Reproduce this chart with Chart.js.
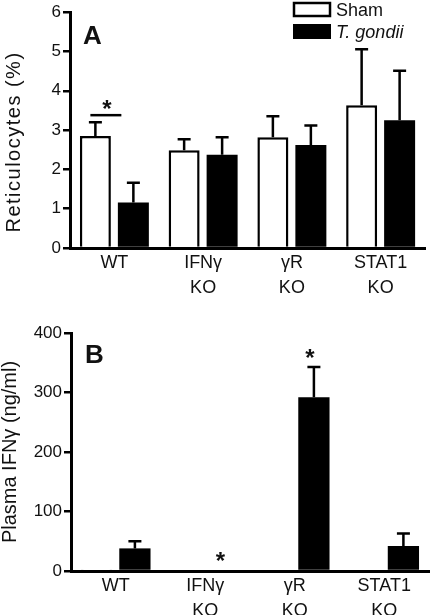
<!DOCTYPE html>
<html>
<head>
<meta charset="utf-8">
<script src="https://cdn.jsdelivr.net/npm/chart.js@4.4.0/dist/chart.umd.min.js"></script>
<style>
  html, body { margin: 0; padding: 0; background: #fff; overflow: hidden; }
  #wrapA { position: absolute; left: 0; top: 0; width: 433px; height: 300px; }
  #wrapB { position: absolute; left: 0; top: 300px; width: 433px; height: 330px; }
</style>
</head>
<body>
<div id="wrapA"><canvas id="chartA"></canvas></div>
<div id="wrapB"><canvas id="chartB"></canvas></div>
<script>
const groups = [['WT'], ['IFNγ', 'KO'], ['γR', 'KO'], ['STAT1', 'KO']];
const seriesNames = ['Sham', 'T. gondii'];

// panel A - reticulocytes (%), mean and SEM
const retSham = [2.85, 2.49, 2.82, 3.63];
const retShamSem = [0.35, 0.28, 0.53, 1.43];
const retTg = [1.16, 2.37, 2.62, 3.25];
const retTgSem = [0.50, 0.45, 0.50, 1.26];
const retTicks = [0, 1, 2, 3, 4, 5, 6];

// panel B - plasma IFNg (ng/ml), mean and SEM
const ifnSham = [1, 0, 0, 0];
const ifnShamSem = [0, 0, 0, 0];
const ifnTg = [38, 0, 292, 42];
const ifnTgSem = [12, 0, 51, 21];
const ifnTicks = [0, 100, 200, 300, 400];

// significance marks (value on y axis)
const sigLineA = 3.38;
const starA = 3.66;
const starB = [null, 25, 366, null]; // over T. gondii bars

const FONT = "'Liberation Sans', Arial, sans-serif";
const INK = '#111';

function starAt(ctx, x, yc) {
  ctx.font = 'bold 24px ' + FONT;
  ctx.textAlign = 'center';
  ctx.textBaseline = 'alphabetic';
  const m = ctx.measureText('*');
  const base = yc + (m.actualBoundingBoxAscent - m.actualBoundingBoxDescent) / 2;
  ctx.fillText('*', x, base);
}

function panelPlugin(cfg) {
  return {
    id: 'panel' + cfg.letter,
    afterDatasetsDraw(chart) {
      const ctx = chart.ctx;
      const ys = chart.scales.y;
      const area = chart.chartArea;
      ctx.save();
      ctx.strokeStyle = '#000';
      ctx.fillStyle = INK;
      ctx.lineWidth = 2.5;

      // error bars (upper only)
      cfg.sems.forEach((sem, di) => {
        const meta = chart.getDatasetMeta(di);
        const vals = chart.data.datasets[di].data;
        meta.data.forEach((bar, i) => {
          if (!sem[i]) return;
          const top = ys.getPixelForValue(vals[i] + sem[i]);
          ctx.beginPath();
          ctx.moveTo(bar.x, bar.y);
          ctx.lineTo(bar.x, top);
          ctx.moveTo(bar.x - 6.5, top);
          ctx.lineTo(bar.x + 6.5, top);
          ctx.stroke();
        });
      });

      if (cfg.sigLine != null) {
        const s = chart.getDatasetMeta(0).data[0];
        const t = chart.getDatasetMeta(1).data[0];
        const yl = ys.getPixelForValue(cfg.sigLine);
        const x1 = s.x - 5, x2 = t.x - 12;
        ctx.beginPath();
        ctx.moveTo(x1, yl);
        ctx.lineTo(x2, yl);
        ctx.stroke();
        starAt(ctx, (x1 + x2) / 2 + 1, ys.getPixelForValue(cfg.star));
      }
      if (cfg.stars) {
        const meta = chart.getDatasetMeta(1);
        cfg.stars.forEach((v, i) => {
          if (v == null) return;
          starAt(ctx, meta.data[i].x - 4, ys.getPixelForValue(v));
        });
      }

      // panel letter
      ctx.font = 'bold 26px ' + FONT;
      ctx.textAlign = 'left';
      ctx.textBaseline = 'alphabetic';
      ctx.fillText(cfg.letter, area.left + cfg.letterDx, area.top + cfg.letterDy);

      // y title
      ctx.save();
      ctx.translate(cfg.titleX, cfg.titleY);
      ctx.rotate(-Math.PI / 2);
      ctx.font = '20px ' + FONT;
      ctx.letterSpacing = cfg.titleSpacing;
      ctx.textAlign = 'center';
      ctx.fillText(cfg.title, 0, 0);
      ctx.restore();

      // legend
      if (cfg.legend) {
        ctx.font = '18px ' + FONT;
        ctx.textAlign = 'left';
        ctx.lineWidth = 2.5;
        ctx.fillStyle = '#fff';
        ctx.fillRect(294, 3, 36, 13);
        ctx.strokeRect(294, 3, 36, 13);
        ctx.fillStyle = '#000';
        ctx.fillRect(293, 24, 38, 15);
        ctx.fillStyle = INK;
        ctx.fillText(seriesNames[0], 336, 16);
        ctx.font = 'italic 18px ' + FONT;
        ctx.fillText(seriesNames[1], 336, 38);
      }
      ctx.restore();
    }
  };
}

function makeChart(id, cfg) {
  return new Chart(document.getElementById(id), {
    type: 'bar',
    data: {
      labels: groups,
      datasets: [
        { label: seriesNames[0], data: cfg.sham, backgroundColor: '#fff', borderColor: '#000', borderWidth: 2.5 },
        { label: seriesNames[1], data: cfg.tg, backgroundColor: '#000', borderColor: '#000', borderWidth: 0 }
      ]
    },
    options: {
      responsive: true,
      maintainAspectRatio: false,
      animation: false,
      datasets: { bar: { categoryPercentage: 0.856, barPercentage: 0.816, borderSkipped: 'start' } },
      layout: { padding: { left: 0, top: cfg.padTop, right: cfg.padRight, bottom: 0 } },
      plugins: { legend: { display: false }, tooltip: { enabled: false } },
      scales: {
        x: {
          offset: true,
          grid: { display: false, drawTicks: false },
          border: { display: true, color: '#000', width: 3 },
          ticks: { color: INK, font: { family: FONT, size: 18, lineHeight: 1.39 }, padding: 3, maxRotation: 0, autoSkip: false },
          afterFit: s => { s.height = cfg.xHeight; }
        },
        y: {
          min: 0,
          max: cfg.ticks[cfg.ticks.length - 1],
          afterBuildTicks: axis => { axis.ticks = cfg.ticks.map(v => ({ value: v })); },
          afterFit: s => { s.width = cfg.yWidth; },
          grid: { display: true, drawOnChartArea: false, drawTicks: true, tickLength: 7, color: '#000', lineWidth: 2.5 },
          border: { display: true, color: '#000', width: 3 },
          ticks: { color: INK, font: { family: FONT, size: 17 }, padding: 2 }
        }
      }
    },
    plugins: [panelPlugin(cfg)]
  });
}

makeChart('chartA', {
  sham: retSham, tg: retTg, sems: [retShamSem, retTgSem], ticks: retTicks,
  padTop: 10, padRight: 8, xHeight: 52, yWidth: 70,
  letter: 'A', letterDx: 13, letterDy: 32,
  title: 'Reticulocytes (%)', titleX: 20, titleY: 142, titleSpacing: '1.5px',
  sigLine: sigLineA, star: starA, legend: true
});

makeChart('chartB', {
  sham: ifnSham, tg: ifnTg, sems: [ifnShamSem, ifnTgSem], ticks: ifnTicks,
  padTop: 33, padRight: 4, xHeight: 59, yWidth: 71,
  letter: 'B', letterDx: 14, letterDy: 30,
  title: 'Plasma IFNγ (ng/ml)', titleX: 16, titleY: 152, titleSpacing: '0px',
  stars: starB, legend: false
});
</script>
</body>
</html>
